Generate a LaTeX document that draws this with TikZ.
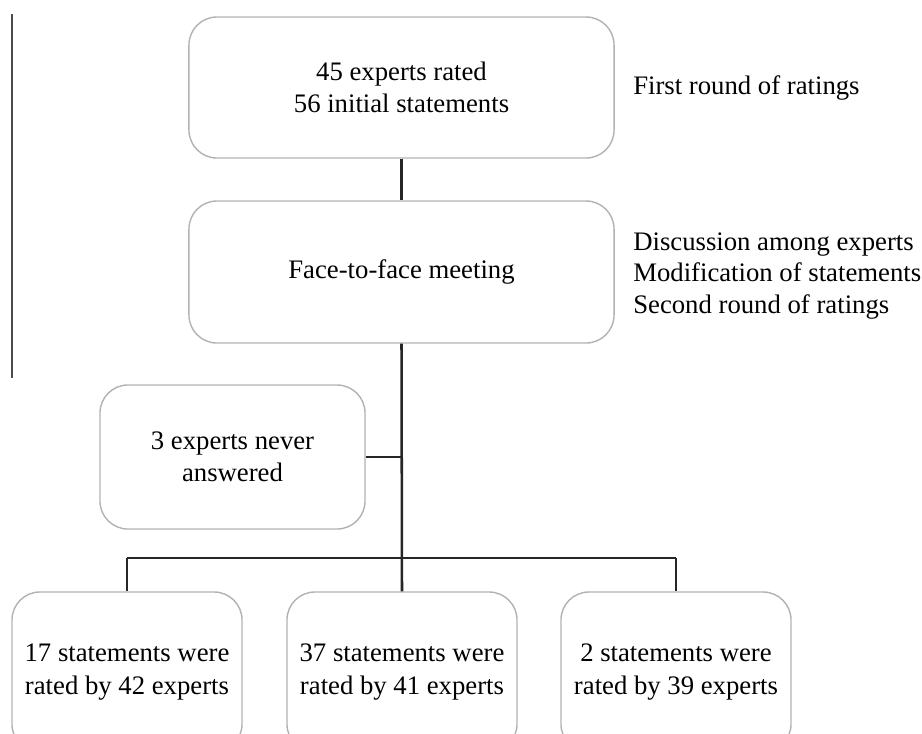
\documentclass[tikz,border=0pt]{standalone}
\usepackage{fontspec}
\setmainfont{Liberation Serif}
\begin{document}
\begin{tikzpicture}[x=0.025cm,y=-0.025cm,
    box/.style={draw=gray!60,line width=1pt,rounded corners=0.7cm,align=center,inner sep=0pt,font=\fontsize{19}{23}\selectfont},
    link/.style={line width=1.8pt,color=black!85},
    note/.style={align=left,anchor=west,inner sep=0pt,font=\fontsize{19}{22.5}\selectfont}]
    \useasboundingbox (0,0) rectangle (922,733);

    \draw[line width=1.6pt,color=black!70] (12,14) -- (12,378);

    \node[box,minimum width=10.625cm,minimum height=3.525cm] (rated) at (401.5,87.5) {45 experts rated\\56 initial statements};
    \node[box,minimum width=10.625cm,minimum height=3.55cm] (meeting) at (401.5,272) {Face-to-face meeting};
    \node[box,minimum width=6.625cm,minimum height=3.6cm] (never) at (232.5,457) {3 experts never\\answered};
    \node[box,minimum width=5.75cm,minimum height=4cm] (res1) at (127,672) {17 statements were\\rated by 42 experts};
    \node[box,minimum width=5.75cm,minimum height=4cm] (res2) at (402,672) {37 statements were\\rated by 41 experts};
    \node[box,minimum width=5.75cm,minimum height=4cm] (res3) at (676,672) {2 statements were\\rated by 39 experts};

    \node[note] (first) at (633,88) {First round of ratings};
    \node[note] (second) at (633,276) {Discussion among experts\\Modification of statements\\Second round of ratings};

    \coordinate (split) at (402,558);

    \draw[link] (rated) -- (meeting);
    \draw[link] (meeting.south) -- (res2.north);
    \draw[link] (never.east) -- (never.east -| meeting.south);
    \draw[link] (res1.north |- split) -- (res3.north |- split);
    \draw[link] (res1.north |- split) -- (res1.north);
    \draw[link] (res3.north |- split) -- (res3.north);
\end{tikzpicture}
\end{document}
